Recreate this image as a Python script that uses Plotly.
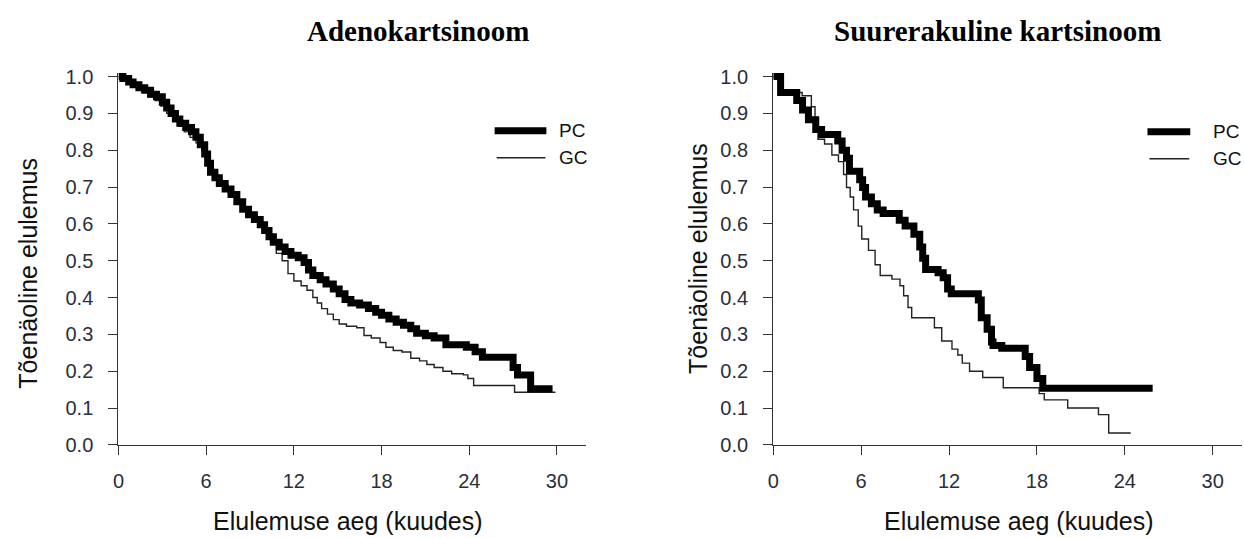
import plotly.graph_objects as go

# ---------------- data ----------------
x_ticks = [0, 6, 12, 18, 24, 30]
y_ticks = [0.0, 0.1, 0.2, 0.3, 0.4, 0.5, 0.6, 0.7, 0.8, 0.9, 1.0]

titles = ["Adenokartsinoom", "Suurerakuline kartsinoom"]
x_title = "Elulemuse aeg (kuudes)"
y_title = "Tõenäoline elulemus"
series_names = ["PC", "GC"]

# Adenokartsinoom
adeno_pc_t = [0, 0.3, 0.7, 1.0, 1.4, 1.8, 2.2, 2.6, 3.0, 3.3, 3.6, 3.9, 4.2, 4.6, 5.0, 5.3, 5.6, 5.9,
              6.1, 6.3, 6.6, 6.9, 7.3, 7.7, 8.1, 8.5, 8.9, 9.3, 9.7, 10.0, 10.3, 10.6, 11.0, 11.4,
              11.8, 12.3, 12.7, 13.0, 13.3, 13.8, 14.2, 14.7, 15.1, 15.5, 15.9, 16.5, 17.1, 17.6,
              18.0, 18.5, 19.0, 19.5, 20.0, 20.4, 21.0, 21.6, 22.4, 23.8, 24.4, 24.9, 27.0, 27.3,
              28.2, 29.7]
adeno_pc_s = [1.0, 0.995, 0.985, 0.978, 0.97, 0.963, 0.952, 0.945, 0.93, 0.915, 0.9, 0.885, 0.873,
              0.862, 0.85, 0.835, 0.815, 0.79, 0.765, 0.74, 0.725, 0.71, 0.695, 0.68, 0.66, 0.64,
              0.625, 0.612, 0.598, 0.582, 0.565, 0.55, 0.537, 0.525, 0.515, 0.508, 0.495, 0.475,
              0.46, 0.448, 0.437, 0.423, 0.41, 0.395, 0.385, 0.38, 0.37, 0.36, 0.352, 0.342, 0.333,
              0.325, 0.315, 0.303, 0.296, 0.29, 0.272, 0.265, 0.253, 0.238, 0.21, 0.19, 0.152, 0.152]

adeno_gc_t = [0, 0.4, 0.8, 1.2, 1.6, 2.0, 2.5, 2.9, 3.3, 3.7, 4.1, 4.5, 4.9, 5.3, 5.7, 6.0, 6.3, 6.7,
              7.1, 7.5, 8.0, 8.4, 8.8, 9.2, 9.6, 10.0, 10.4, 10.8, 11.2, 11.6, 12.0, 12.5, 12.9, 13.3,
              13.6, 13.9, 14.3, 14.7, 15.1, 15.6, 16.3, 16.8, 17.3, 17.9, 18.3, 18.8, 19.4, 20.0,
              20.6, 21.1, 21.6, 22.2, 22.8, 23.6, 23.9, 24.3, 27.1, 29.9]
adeno_gc_s = [1.0, 0.99, 0.98, 0.97, 0.958, 0.945, 0.935, 0.92, 0.9, 0.88, 0.865, 0.85, 0.835, 0.82,
              0.8, 0.77, 0.74, 0.72, 0.705, 0.685, 0.665, 0.645, 0.628, 0.612, 0.595, 0.575, 0.545,
              0.52, 0.5, 0.465, 0.445, 0.432, 0.42, 0.4, 0.385, 0.37, 0.355, 0.34, 0.328, 0.322,
              0.318, 0.297, 0.29, 0.278, 0.265, 0.256, 0.252, 0.235, 0.228, 0.218, 0.21, 0.2, 0.193,
              0.19, 0.18, 0.161, 0.143, 0.143]

# Suurerakuline kartsinoom
large_pc_t = [0, 0.5, 1.6, 2.0, 2.4, 2.9, 3.3, 4.4, 4.7, 5.0, 5.2, 5.9, 6.1, 6.3, 6.7, 7.1, 7.5, 8.6,
              9.0, 9.6, 10.0, 10.2, 10.4, 11.25, 11.6, 11.9, 12.15, 14.0, 14.2, 14.6, 14.9, 15.0,
              15.6, 17.2, 17.5, 18.0, 18.4, 25.9]
large_pc_s = [1.0, 0.957, 0.935, 0.909, 0.883, 0.856, 0.843, 0.825, 0.80, 0.778, 0.743, 0.72, 0.699,
              0.673, 0.655, 0.638, 0.628, 0.61, 0.594, 0.572, 0.537, 0.507, 0.476, 0.467, 0.454,
              0.423, 0.41, 0.393, 0.345, 0.314, 0.279, 0.27, 0.262, 0.24, 0.21, 0.18, 0.154, 0.154]

large_gc_t = [0, 0.5, 1.97, 2.6, 2.85, 3.05, 3.5, 4.0, 4.45, 4.8, 5.0, 5.25, 5.48, 5.8, 6.04, 6.5,
              6.95, 7.3, 8.1, 8.65, 8.9, 9.2, 9.45, 11.0, 11.5, 12.2, 12.6, 12.9, 13.4, 14.3, 15.7,
              18.15, 18.5, 20.1, 22.2, 22.9, 24.4]
large_gc_s = [1.0, 0.957, 0.948, 0.918, 0.883, 0.83, 0.817, 0.787, 0.769, 0.734, 0.699, 0.673, 0.638,
              0.594, 0.559, 0.528, 0.489, 0.46, 0.45, 0.432, 0.405, 0.373, 0.345, 0.318, 0.282,
              0.26, 0.244, 0.222, 0.2, 0.183, 0.155, 0.139, 0.122, 0.10, 0.082, 0.032, 0.032]

# ---------------- layout helpers (pixels -> paper) ----------------
W, H = 1244, 538


def px(x):
    return x / W


def py(y):
    return 1 - y / H


AXIS_COLOR = "#333333"
TICK_FONT = dict(family="Liberation Sans, Arial, sans-serif", size=20, color="#2a2f3a")
TEXT_FONT = dict(family="Liberation Sans, Arial, sans-serif", size=25, color="#111111")
LEG_FONT = dict(family="Liberation Sans, Arial, sans-serif", size=19, color="#111111")
TITLE_FONT = dict(family="Liberation Serif, Times New Roman, serif", size=29, color="#000000")

fig = go.Figure()

panels = [
    dict(xa="x", ya="y", pc=(adeno_pc_t, adeno_pc_s), gc=(adeno_gc_t, adeno_gc_s)),
    dict(xa="x2", ya="y2", pc=(large_pc_t, large_pc_s), gc=(large_gc_t, large_gc_s)),
]

for p in panels:
    fig.add_trace(go.Scatter(x=p["gc"][0], y=p["gc"][1], mode="lines", name=series_names[1],
                             line=dict(color="#222222", width=1.4, shape="hv"),
                             xaxis=p["xa"], yaxis=p["ya"], showlegend=False))
    fig.add_trace(go.Scatter(x=p["pc"][0], y=p["pc"][1], mode="lines", name=series_names[0],
                             line=dict(color="#000000", width=7, shape="hv"),
                             xaxis=p["xa"], yaxis=p["ya"], showlegend=False))

y_dom = [py(453), py(453 - 1.01 * 381)]
x_doms = [[px(113), px(583)], [px(771), px(1242)]]

common_x = dict(range=[0, 32], tickmode="array", tickvals=x_ticks, ticktext=[str(v) for v in x_ticks],
                showline=True, linecolor=AXIS_COLOR, linewidth=1.3, ticks="outside", ticklen=9,
                tickwidth=1.3, tickcolor=AXIS_COLOR, showgrid=False, zeroline=False, tickfont=TICK_FONT,
                ticklabelstandoff=9)
common_y = dict(range=[0, 1.01], tickmode="array", tickvals=y_ticks, ticktext=[f"{v:.1f}" for v in y_ticks],
                showline=True, linecolor=AXIS_COLOR, linewidth=1.3, ticks="outside", ticklen=9,
                tickwidth=1.3, tickcolor=AXIS_COLOR, showgrid=False, zeroline=False, tickfont=TICK_FONT,
                ticklabelstandoff=11)

fig.update_layout(
    width=W, height=H,
    margin=dict(l=0, r=0, t=0, b=0),
    paper_bgcolor="white", plot_bgcolor="white",
    showlegend=False,
    xaxis=dict(domain=x_doms[0], anchor="y", **common_x),
    yaxis=dict(domain=y_dom, anchor="x", **common_y),
    xaxis2=dict(domain=x_doms[1], anchor="y2", **common_x),
    yaxis2=dict(domain=y_dom, anchor="x2", **common_y),
)

annotations = []
shapes = []

# titles
for cx, t in zip([414, 996], titles):
    annotations.append(dict(x=px(cx), y=py(25), xref="paper", yref="paper", text=f"<b>{t}</b>",
                            showarrow=False, xanchor="center", yanchor="middle", font=TITLE_FONT))
# x-axis titles
for cx in [344, 1018]:
    annotations.append(dict(x=px(cx), y=py(532), xref="paper", yref="paper", text=x_title,
                            showarrow=False, xanchor="center", yanchor="middle", font=TEXT_FONT))
# y-axis titles
for cx, cy in [(22, 275), (696, 260)]:
    annotations.append(dict(x=px(cx), y=py(cy), xref="paper", yref="paper", text=y_title,
                            showarrow=False, xanchor="center", yanchor="middle", textangle=-90,
                            font=TEXT_FONT))

# legends (line samples + labels)
legend_specs = [
    # (line x0, line x1, y PC, y GC, text x)
    (491, 543, 128, 156, 554),
    (1147, 1190, 129, 157, 1211),
]
for x0, x1, ypc, ygc, tx in legend_specs:
    shapes.append(dict(type="line", xref="paper", yref="paper", x0=px(x0), x1=px(x1),
                       y0=py(ypc), y1=py(ypc), line=dict(color="#000000", width=7)))
    shapes.append(dict(type="line", xref="paper", yref="paper", x0=px(x0 + 2), x1=px(x1 - 1),
                       y0=py(ygc), y1=py(ygc), line=dict(color="#222222", width=1.4)))
    annotations.append(dict(x=px(tx), y=py(ypc), xref="paper", yref="paper", text=series_names[0],
                            showarrow=False, xanchor="left", yanchor="middle", font=LEG_FONT))
    annotations.append(dict(x=px(tx), y=py(ygc), xref="paper", yref="paper", text=series_names[1],
                            showarrow=False, xanchor="left", yanchor="middle", font=LEG_FONT))

fig.update_layout(annotations=annotations, shapes=shapes)

fig.write_html("out.html")
